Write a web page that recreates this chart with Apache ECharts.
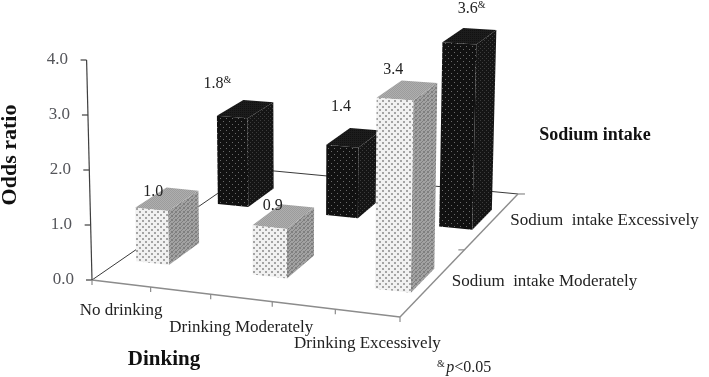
<!DOCTYPE html>
<html>
<head>
<meta charset="utf-8">
<style>html,body{margin:0;padding:0;background:#fff}#c{width:709px;height:377px}</style>
<script src="https://cdn.jsdelivr.net/npm/echarts@6/dist/echarts.min.js"></script>
</head>
<body>
<div id="c"></div>
<script>
// ---- data ----
const drinkingLevels = ['No drinking', 'Drinking Moderately', 'Drinking Excessively'];
const sodiumLevels = ['Sodium  intake Moderately', 'Sodium  intake Excessively'];
const moderateSodium = [1.0, 0.9, 3.4];
const excessiveSodium = [1.8, 1.4, 3.6];
const moderateMarks = ['', '', ''];
const excessiveMarks = ['&', '', '&'];
const yTicks = [0, 1, 2, 3, 4];

// ---- 3D floor model, in axis units (x: 0..1 is the front edge, y: odds ratio) ----
const F0 = [0, 0], F1 = [1, -0.673], B1 = [1.383, 1.564], B0 = [0.523, 2.018];
const det = (F1[0]-B1[0])*(B0[1]-B1[1]) - (B0[0]-B1[0])*(F1[1]-B1[1]);
const sx = F0[0]-F1[0]+B1[0]-B0[0], sy = F0[1]-F1[1]+B1[1]-B0[1];
const G = (sx*(B0[1]-B1[1]) - (B0[0]-B1[0])*sy)/det;
const H = ((F1[0]-B1[0])*sy - sx*(F1[1]-B1[1]))/det;
const LEAN = 0.0065, LEAN_X = 0.675;
function project(u, w, v) {
  const d = 1 + G*u + H*w;
  const X = ((F1[0]-F0[0]+G*F1[0])*u + (B0[0]-F0[0]+H*B0[0])*w + F0[0])/d;
  const Y = ((F1[1]-F0[1]+G*F1[1])*u + (B0[1]-F0[1]+H*B0[1])*w + F0[1])/d;
  return [X + (X-LEAN_X)*LEAN*v, Y + v/d];
}
const SLOTS_U = 5, SLOTS_W = 2, U_SHIFT = 0.008, U_HALF = 0.057, W_HALF = 0.09;
const uOf = i => (2*i+0.5)/SLOTS_U + U_SHIFT;
const wOf = j => (j+0.5)/SLOTS_W;

// ---- textures ----
function tex(w, h, bg, paint) {
  const c = document.createElement('canvas'); c.width = w; c.height = h;
  const x = c.getContext('2d'); x.fillStyle = bg; x.fillRect(0, 0, w, h); paint(x);
  return {image: c, repeat: 'repeat'};
}
const dots = (col, pts, s) => x => { x.fillStyle = col; pts.forEach(p => x.fillRect(p[0], p[1], s, s)); };
const hatch = (col, w) => x => { x.strokeStyle = col; x.lineWidth = w;
  [[-1,5,5,-1],[-1,2,2,-1],[2,5,5,2]].forEach(l => { x.beginPath(); x.moveTo(l[0],l[1]); x.lineTo(l[2],l[3]); x.stroke(); }); };
const light = {
  front: tex(6, 6, '#f1f1f1', dots('#a4a4a4', [[1,1],[4,4]], 2)),
  side: tex(4, 4, '#a2a2a2', hatch('#7f7f7f', 1)),
  top: tex(2, 2, '#aeaeae', dots('#9c9c9c', [[0,0],[1,1]], 1))
};
const dark = {
  front: tex(6, 6, '#111111', dots('#6a6a6a', [[1,1],[4,4]], 1)),
  side: tex(4, 4, '#151515', dots('#3c3c3c', [[0,0],[2,2]], 1)),
  top: tex(2, 2, '#1c1c1c', dots('#111111', [[0,0]], 1))
};

// ---- marks ----
const FONT = '"Liberation Serif","Times New Roman",serif';
const bars = [];
excessiveSodium.forEach((v, i) => bars.push([i, 1, v]));
moderateSodium.forEach((v, i) => bars.push([i, 0, v]));

function poly(api, pts, fill) {
  return {type: 'polygon', shape: {points: pts.map(p => api.coord(project(p[0], p[1], p[2])))},
          style: {fill: fill, stroke: null}};
}
function renderBar(params, api) {
  const i = api.value(0), j = api.value(1), v = api.value(2);
  const u0 = uOf(i)-U_HALF, u1 = uOf(i)+U_HALF, w0 = wOf(j)-W_HALF, w1 = wOf(j)+W_HALF;
  const t = j === 0 ? light : dark;
  return {type: 'group', children: [
    poly(api, [[u1,w0,0],[u1,w1,0],[u1,w1,v],[u1,w0,v]], t.side),
    poly(api, [[u0,w0,v],[u1,w0,v],[u1,w1,v],[u0,w1,v]], t.top),
    poly(api, [[u0,w0,0],[u1,w0,0],[u1,w0,v],[u0,w0,v]], t.front)
  ]};
}
function line(api, a, b, col, width, dx, dy) {
  const p = api.coord(a), q = api.coord(b);
  return {type: 'line', shape: {x1: p[0], y1: p[1], x2: q[0]+(dx||0), y2: q[1]+(dy||0)},
          style: {stroke: col, lineWidth: width, fill: null}};
}
function renderFloor(params, api) {
  const kids = [
    line(api, project(0,0,0), project(0,1,0), '#3a3a3a', 1),
    line(api, project(0,1,0), project(1,1,0), '#3a3a3a', 1),
    line(api, project(0,0,0), project(1,0,0), '#8c8c8c', 1.4),
    line(api, project(1,0,0), project(1,1,0), '#8c8c8c', 1.4),
    line(api, project(0,0,0), project(0,0,yTicks[yTicks.length-1]), '#3f3f3f', 1.2)
  ];
  yTicks.forEach(t => { const p = project(0,0,t); kids.push(line(api, p, p, '#3f3f3f', 1.2, -6, 0)); });
  for (let k = 0; k <= SLOTS_U; k++) { const p = project(k/SLOTS_U,0,0); kids.push(line(api, p, p, '#8c8c8c', 1.2, 0, 5)); }
  [0.5, 1].forEach(w => { const p = project(1,w,0); kids.push(line(api, p, p, '#8c8c8c', 1.2, w === 1 ? 7 : -6, 0)); });
  return {type: 'group', children: kids};
}
const CAT_DY = [27, 30, 30], SOD_DX = 18;
function renderAxisText(params, api) {
  const kids = [];
  drinkingLevels.forEach((s, i) => {
    const p = api.coord(project((2*i+0.5)/SLOTS_U, 0, 0));
    kids.push({type: 'text', x: p[0], y: p[1]+CAT_DY[i],
      style: {text: s, fontFamily: FONT, fontSize: 17, fill: '#222', align: 'center', verticalAlign: 'middle'}});
  });
  sodiumLevels.forEach((s, j) => {
    const p = api.coord(project(1, wOf(j), 0));
    kids.push({type: 'text', x: p[0]+SOD_DX, y: p[1],
      style: {text: s, fontFamily: FONT, fontSize: 17, fill: '#222', align: 'left', verticalAlign: 'middle'}});
  });
  return {type: 'group', children: kids};
}
const LABEL_OFFSET = {'0,0': [-24, -7], '1,0': [-21, -10], '2,0': [-24, -21],
                      '0,1': [-42, -25], '1,1': [-23, -31], '2,1': [-12, -27]};
function renderValueLabel(params, api) {
  const i = api.value(0), j = api.value(1), v = api.value(2);
  const p = api.coord(project(uOf(i), wOf(j), v));
  const o = LABEL_OFFSET[i+','+j];
  const mark = (j === 0 ? moderateMarks : excessiveMarks)[i];
  return {type: 'text', x: p[0]+o[0], y: p[1]+o[1], style: {
    text: '{n|' + v.toFixed(1) + '}' + (mark ? '{s|' + mark + '}' : ''),
    align: 'left', verticalAlign: 'middle', fill: '#222',
    rich: {n: {fontFamily: FONT, fontSize: 16, fill: '#222', lineHeight: 18},
           s: {fontFamily: FONT, fontSize: 10, fill: '#222', verticalAlign: 'top', lineHeight: 11}}
  }};
}

const tickPad = {0: 0, 1: 2, 2: 3, 3: 4, 4: 6};
const rich = {};
yTicks.forEach(t => { rich['t'+t] = {fontFamily: FONT, fontSize: 17, fill: '#222', padding: [0, tickPad[t], 0, 0]}; });

const chart = echarts.init(document.getElementById('c'), null, {renderer: 'canvas'});
chart.setOption({
  animation: false,
  backgroundColor: '#fff',
  grid: {left: 92, top: 60, width: 308, height: 220, containLabel: false},
  xAxis: {type: 'value', min: 0, max: 1, show: false},
  yAxis: {type: 'value', min: 0, max: 4, interval: 1,
    axisLine: {show: false}, axisTick: {show: false}, splitLine: {show: false},
    axisLabel: {margin: 18, rich: rich, formatter: v => '{t' + v + '|' + v.toFixed(1) + '}'}},
  series: [
    {type: 'custom', silent: true, z: 1, data: [[0, 0, 0]], renderItem: renderFloor},
    {type: 'custom', silent: true, z: 2, data: bars, renderItem: renderBar,
     encode: {x: 0, y: 2}},
    {type: 'custom', silent: true, z: 3, data: bars, renderItem: renderValueLabel,
     encode: {x: 0, y: 2}},
    {type: 'custom', silent: true, z: 3, data: [[0, 0, 0]], renderItem: renderAxisText}
  ],
  graphic: [
    {type: 'text', x: 10, y: 155, rotation: Math.PI/2, style: {text: 'Odds ratio', fontFamily: FONT, fontWeight: 'bold', fontSize: 22, fill: '#111', align: 'center', verticalAlign: 'middle'}},
    {type: 'text', x: 164, y: 360, style: {text: 'Dinking', fontFamily: FONT, fontWeight: 'bold', fontSize: 21, fill: '#111', align: 'center', verticalAlign: 'middle'}},
    {type: 'text', x: 595, y: 135, style: {text: 'Sodium intake', fontFamily: FONT, fontWeight: 'bold', fontSize: 18, fill: '#111', align: 'center', verticalAlign: 'middle'}},
    {type: 'text', x: 437, y: 368, style: {text: '{s|&}{g| }{i|p}{n|<0.05}', align: 'left', verticalAlign: 'middle',
      rich: {s: {fontFamily: FONT, fontSize: 10, fill: '#222', verticalAlign: 'top', lineHeight: 11},
             g: {fontFamily: FONT, fontSize: 6},
             i: {fontFamily: FONT, fontStyle: 'italic', fontSize: 16, fill: '#222', lineHeight: 18},
             n: {fontFamily: FONT, fontSize: 16, fill: '#222', lineHeight: 18}}}}
  ]
});
</script>
</body>
</html>
